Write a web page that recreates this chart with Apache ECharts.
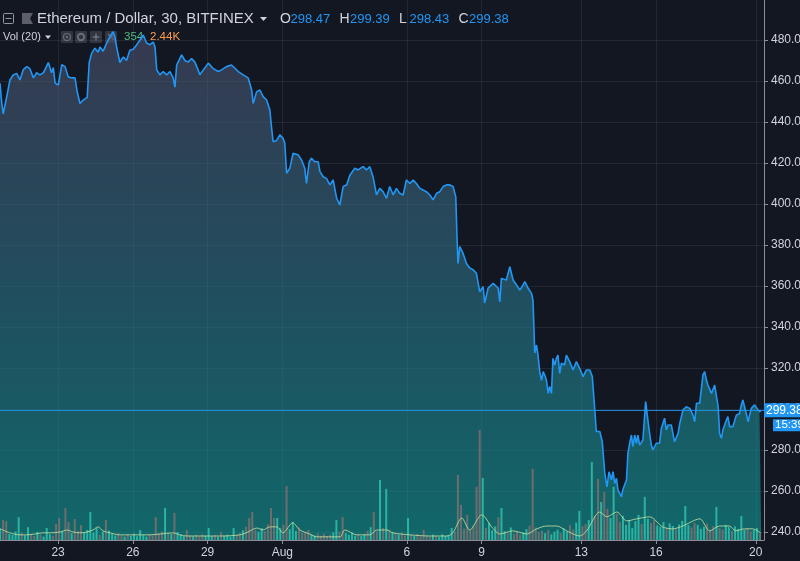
<!DOCTYPE html>
<html>
<head>
<meta charset="utf-8">
<script src="https://cdn.jsdelivr.net/npm/echarts@6/dist/echarts.min.js"></script>
<style>
html, body { margin: 0; padding: 0; background: #131722; }
#chart { width: 800px; height: 561px; }
</style>
</head>
<body>
<div id="chart"></div>
<script>
// ETH/USD 30m (Bitfinex). x = day of month, August continues as 32, 33, ...
const priceDays = [
  20.67, 20.74, 20.80, 20.87, 20.94, 21.07, 21.20, 21.34, 21.47, 21.60,
  21.74, 21.87, 22.01, 22.14, 22.27, 22.41, 22.61, 22.74, 22.81, 22.88,
  23.01, 23.15, 23.28, 23.41, 23.55, 23.68, 23.77, 23.88, 24.01, 24.17,
  24.25, 24.35, 24.48, 24.61, 24.68, 24.81, 24.95, 25.08, 25.21, 25.28,
  25.35, 25.48, 25.62, 25.75, 25.88, 26.02, 26.15, 26.29, 26.42, 26.55,
  26.69, 26.82, 26.89, 26.96, 27.09, 27.22, 27.36, 27.49, 27.62, 27.69,
  27.76, 27.96, 28.09, 28.22, 28.36, 28.49, 28.62, 28.69, 28.83, 29.03,
  29.23, 29.43, 29.56, 29.76, 29.96, 30.10, 30.23, 30.43, 30.63, 30.77,
  30.83, 30.97, 31.10, 31.23, 31.37, 31.50, 31.57, 31.63, 31.77, 31.90,
  32.03, 32.10, 32.17, 32.30, 32.43, 32.63, 32.77, 32.90, 32.97, 33.08,
  33.17, 33.30, 33.44, 33.51, 33.64, 33.77, 33.91, 34.04, 34.18, 34.31,
  34.44, 34.58, 34.71, 34.91, 35.04, 35.24, 35.38, 35.51, 35.64, 35.78,
  35.91, 36.04, 36.18, 36.31, 36.45, 36.58, 36.71, 36.85, 36.98, 37.12,
  37.25, 37.38, 37.52, 37.65, 37.78, 37.92, 38.05, 38.19, 38.32, 38.45,
  38.59, 38.72, 38.85, 38.96, 39.01, 39.05, 39.12, 39.25, 39.39, 39.52,
  39.65, 39.79, 39.92, 40.06, 40.12, 40.26, 40.46, 40.66, 40.73, 40.79,
  40.99, 41.13, 41.26, 41.40, 41.53, 41.66, 41.73, 41.86, 42.00, 42.06,
  42.13, 42.20, 42.26, 42.33, 42.40, 42.47, 42.53, 42.60, 42.67, 42.73,
  42.80, 42.86, 42.93, 43.00, 43.06, 43.13, 43.20, 43.33, 43.40, 43.53,
  43.67, 43.80, 43.93, 44.07, 44.20, 44.34, 44.44, 44.54, 44.60, 44.74,
  44.84, 44.94, 45.03, 45.11, 45.21, 45.27, 45.34, 45.41, 45.47, 45.54,
  45.61, 45.66, 45.74, 45.81, 45.87, 45.94, 46.01, 46.07, 46.14, 46.21,
  46.27, 46.34, 46.47, 46.58, 46.67, 46.74, 46.81, 46.87, 47.01, 47.14,
  47.21, 47.34, 47.41, 47.48, 47.61, 47.68, 47.74, 47.88, 47.95, 48.08,
  48.21, 48.35, 48.48, 48.55, 48.62, 48.75, 48.88, 48.95, 49.02, 49.08,
  49.22, 49.35, 49.42, 49.49, 49.55, 49.62, 49.68, 49.75, 49.82, 49.88,
  49.95, 50.08, 50.22, 50.35, 50.42, 50.48, 50.62, 50.69, 50.82, 50.95,
  51.05, 51.15, 51.22
];
const prices = [
  458.9, 449.1, 444.0, 443.4, 452.3, 460.5, 462.9, 463.7, 460.5, 465.4,
  467.0, 466.0, 461.5, 464.0, 463.0, 464.0, 469.0, 464.0, 466.5, 459.0,
  458.0, 468.0, 467.0, 462.0, 461.5, 461.5, 454.6, 449.0, 450.7, 452.0,
  469.0, 473.6, 476.0, 474.0, 476.6, 474.5, 478.5, 481.5, 484.0, 481.5,
  476.6, 469.0, 471.7, 470.0, 475.0, 475.5, 477.6, 480.0, 482.4, 478.5,
  477.7, 479.0, 476.6, 465.4, 463.0, 464.6, 463.0, 464.6, 461.5, 457.0,
  467.8, 472.7, 470.0, 469.2, 471.0, 469.2, 465.4, 463.0, 465.4, 468.7,
  466.0, 464.6, 465.4, 467.0, 467.8, 466.2, 464.6, 463.0, 461.5, 455.6,
  449.0, 454.8, 455.6, 452.4, 450.7, 445.8, 437.0, 430.4, 431.0, 433.7,
  432.0, 429.6, 415.0, 417.4, 424.7, 424.0, 421.5, 417.4, 410.0, 420.6,
  422.3, 420.6, 420.6, 415.8, 413.3, 412.5, 409.3, 411.7, 402.8, 399.5,
  408.5, 409.3, 414.0, 417.4, 416.6, 418.2, 416.6, 418.2, 413.3, 404.4,
  407.6, 406.0, 402.8, 408.5, 404.4, 407.6, 405.2, 404.4, 411.7, 410.0,
  411.7, 410.0, 407.6, 406.8, 406.0, 404.4, 402.0, 405.2, 406.0, 408.5,
  409.3, 409.3, 408.5, 403.6, 384.0, 371.0, 379.2, 376.0, 371.0, 368.8,
  368.0, 366.2, 357.2, 359.6, 351.7, 359.0, 361.3, 359.0, 352.3, 363.7,
  362.9, 369.4, 362.9, 360.5, 358.0, 360.5, 362.1, 359.0, 356.4, 353.0,
  327.3, 331.2, 326.3, 318.2, 314.0, 318.2, 316.6, 314.0, 307.6, 311.0,
  307.6, 324.7, 321.5, 324.7, 326.3, 317.4, 322.3, 321.5, 326.3, 323.1,
  319.0, 323.1, 319.8, 315.8, 319.0, 319.0, 315.8, 299.5, 289.0, 289.0,
  284.0, 268.6, 262.0, 269.4, 265.4, 269.4, 263.7, 266.2, 260.5, 258.9,
  257.2, 260.5, 261.3, 265.4, 278.4, 283.3, 287.3, 281.6, 287.3, 283.3,
  287.3, 282.4, 284.9, 303.6, 294.6, 288.1, 282.4, 280.0, 283.3, 283.3,
  290.6, 295.5, 289.8, 292.2, 292.2, 291.4, 284.0, 288.1, 293.0, 299.5,
  301.1, 300.3, 297.0, 293.8, 302.8, 302.8, 316.6, 318.2, 314.1, 311.7,
  307.6, 311.7, 310.9, 301.1, 288.1, 285.7, 289.8, 290.6, 294.6, 296.3,
  291.4, 291.4, 297.0, 297.8, 302.0, 304.4, 297.8, 293.8, 300.3, 302.0,
  300.3, 298.7, 299.38
];

// volume, thousands, one bar per 3 hours starting at volStart
const volStart = 20.67;
const volStep = 0.125;
const volumes = [
  4.0, 7.0, 6.6, 2.1, 1.8, 3.0, 8.0, 2.5, 1.6, 4.5,
  2.2, 1.4, 2.8, 1.9, 1.2, 4.2, 2.0, 1.5, 5.6, 7.7,
  3.1, 11.2, 6.3, 2.4, 7.4, 3.2, 5.2, 2.7, 3.5, 9.8,
  2.6, 4.2, 1.8, 2.9, 7.0, 3.3, 2.1, 1.6, 2.4, 1.5,
  1.2, 1.9, 1.4, 2.2, 1.3, 3.5, 1.7, 1.2, 2.0, 1.6,
  8.0, 2.3, 3.0, 11.2, 2.6, 2.1, 9.5, 2.8, 1.9, 1.4,
  3.5, 1.6, 1.3, 1.8, 1.2, 2.0, 1.5, 4.2, 1.3, 1.7,
  1.1, 2.8, 1.5, 1.9, 1.2, 4.2, 1.8, 2.5, 3.4, 4.6,
  7.7, 9.8, 3.6, 2.9, 4.2, 3.1, 5.5, 11.2, 7.7, 7.7,
  4.1, 5.3, 18.9, 3.8, 6.3, 3.2, 4.4, 2.5, 2.8, 3.5,
  2.0, 1.6, 2.4, 1.5, 2.2, 1.4, 1.9, 2.7, 7.0, 3.0,
  8.0, 2.4, 1.8, 2.6, 1.5, 2.1, 1.4, 2.0, 3.2, 4.5,
  9.8, 3.0, 21.0, 4.2, 17.9, 3.6, 2.8, 2.2, 1.9, 2.5,
  1.6, 7.7, 1.8, 1.4, 2.1, 1.3, 3.5, 1.6, 1.2, 1.9,
  1.5, 1.1, 2.0, 1.4, 1.7, 4.2, 2.9, 22.8, 12.3, 4.0,
  8.8, 3.6, 5.1, 18.6, 38.5, 21.7, 4.2, 6.0, 3.4, 4.8,
  8.0, 11.2, 3.1, 2.6, 4.4, 2.2, 3.0, 1.9, 2.7, 3.8,
  5.0, 24.9, 4.4, 2.8, 3.3, 2.4, 3.5, 2.0, 2.9, 3.6,
  2.5, 4.1, 3.0, 5.2, 3.7, 6.1, 10.2, 4.8, 5.6, 7.0,
  27.3, 8.4, 21.4, 13.3, 16.8, 10.9, 7.7, 18.6, 9.1, 6.3,
  8.4, 5.3, 7.0, 4.2, 6.6, 8.8, 5.6, 15.1, 7.4, 6.0,
  7.0, 5.1, 4.6, 6.3, 4.2, 5.8, 4.9, 3.8, 5.4, 6.7,
  11.9, 5.2, 4.4, 6.0, 5.3, 3.9, 4.6, 5.8, 3.5, 4.9,
  11.6, 4.2, 3.7, 5.3, 4.5, 3.2, 4.8, 3.9, 8.4, 3.6,
  4.1, 3.0, 3.6, 4.2, 2.4
];

// Vol (20) moving average, thousands
const maDays = [
  20.67, 21.07, 21.47, 21.75, 22.07, 22.39, 22.68, 23.08, 23.36, 23.60,
  23.88, 24.16, 24.40, 24.60, 24.80, 25.08, 25.48, 25.88, 26.29, 26.69,
  27.09, 27.61, 27.89, 28.17, 28.69, 29.49, 30.30, 30.62, 30.98, 31.22,
  31.50, 31.78, 32.02, 32.42, 32.70, 33.10, 33.38, 34.31, 34.51, 34.99,
  35.51, 35.79, 36.19, 36.43, 37.12, 37.92, 38.60, 38.84, 39.20, 39.52,
  40.00, 40.44, 40.73, 41.25, 41.81, 42.21, 42.61, 43.01, 43.41, 43.93,
  44.21, 44.74, 45.02, 45.42, 45.82, 46.22, 46.74, 47.26, 47.66, 48.07,
  48.75, 49.15, 49.55, 49.95, 50.19, 50.55, 50.87, 51.20
];
const maValues = [
  3.9, 2.5, 1.8, 1.8, 2.1, 2.5, 2.5, 2.8, 3.5, 2.8,
  2.5, 2.8, 3.5, 4.6, 3.2, 2.5, 1.8, 1.8, 1.8, 1.8,
  2.1, 2.5, 1.8, 1.4, 1.4, 1.4, 1.8, 2.8, 4.2, 3.5,
  4.6, 4.6, 2.5, 6.0, 3.5, 2.1, 1.1, 1.1, 3.5, 1.8,
  1.8, 3.5, 3.5, 2.5, 1.8, 1.4, 1.4, 2.5, 7.7, 3.5,
  8.8, 4.2, 2.1, 3.2, 2.1, 3.9, 4.9, 4.9, 3.2, 1.4,
  3.2, 9.8, 8.1, 9.8, 6.7, 7.4, 8.1, 4.6, 3.9, 4.9,
  7.4, 3.2, 4.9, 4.9, 3.2, 3.9, 3.9, 2.44
];

const xTickDays = [23, 26, 29, 32, 37, 40, 44, 47, 51];
const yTicks = [240, 260, 280, 300, 320, 340, 360, 380, 400, 420, 440, 460, 480];
const ohlcNames = ['O', 'H', 'L', 'C'];
const ohlcValues = ['298.47', '299.39', '298.43', '299.38'];
const volNow = '354';
const volMaNow = '2.44K';
const countdown = '15:39';

const FONT = '"Liberation Sans", Arial, sans-serif';
const TXT = '#d1d4dc';
const BLUE = '#2196f3';
const GRID = 'rgba(255,255,255,0.07)';
const SCALE = '#8a8e99';

function fmtDay(v) {
  const d = Math.round(v);
  if (d <= 31) return String(d);
  if (d === 32) return 'Aug';
  return String(d - 31);
}

function priceAt(t) {
  let p = prices[0];
  for (let i = 0; i < priceDays.length; i++) {
    if (priceDays[i] <= t + 1e-6) p = prices[i]; else break;
  }
  return p;
}

const volData = volumes.map(function (v, i) {
  const t = volStart + i * volStep;
  const up = priceAt(t) >= priceAt(t - volStep);
  return {
    value: [t, v],
    itemStyle: { color: up ? 'rgba(60,230,200,0.6)' : 'rgba(225,120,120,0.45)' }
  };
});

const lastPrice = prices[prices.length - 1];

const chart = echarts.init(document.getElementById('chart'));
chart.setOption({
  backgroundColor: '#131722',
  animation: false,
  grid: { left: 0, right: 36, top: 0, bottom: 21, outerBoundsMode: 'none' },
  xAxis: {
    type: 'value',
    min: 20.67,
    max: 51.33,
    axisLine: { show: true, lineStyle: { color: SCALE } },
    axisTick: { show: true, length: 4, customValues: xTickDays, lineStyle: { color: SCALE } },
    axisLabel: { customValues: xTickDays, formatter: fmtDay, color: TXT, fontSize: 12, margin: 7, fontFamily: FONT },
    splitLine: { show: true, lineStyle: { color: GRID, width: 1 } }
  },
  yAxis: [{
    type: 'value',
    position: 'right',
    min: 236.1,
    max: 499.5,
    axisLine: { show: true, lineStyle: { color: SCALE } },
    axisTick: { show: true, length: 4, customValues: yTicks, lineStyle: { color: SCALE } },
    axisLabel: {
      customValues: yTicks, formatter: function (v) { return v.toFixed(2); },
      color: TXT, fontSize: 12, margin: 7, fontFamily: FONT
    },
    splitLine: { show: true, lineStyle: { color: GRID, width: 1 } }
  }, {
    type: 'value',
    min: 0,
    max: 189,
    show: false
  }],
  series: [{
    name: 'price',
    type: 'line',
    data: priceDays.map(function (d, i) { return [d, prices[i]]; }),
    symbol: 'none',
    lineStyle: { color: BLUE, width: 1.6 },
    areaStyle: {
      color: new echarts.graphic.LinearGradient(0, 0, 0, 1, [
        { offset: 0, color: 'rgba(78,80,110,0.85)' },
        { offset: 0.55, color: 'rgba(40,120,140,0.84)' },
        { offset: 1, color: 'rgba(15,160,155,0.84)' }
      ])
    },
    markLine: {
      symbol: 'none',
      silent: true,
      label: { show: false },
      lineStyle: { color: BLUE, width: 1, type: 'solid', opacity: 0.85 },
      data: [{ yAxis: lastPrice }]
    },
    z: 2
  }, {
    name: 'volume',
    type: 'bar',
    yAxisIndex: 1,
    data: volData,
    barWidth: 2,
    silent: true,
    z: 3
  }, {
    name: 'vol ma',
    type: 'line',
    yAxisIndex: 1,
    data: maDays.map(function (d, i) { return [d, maValues[i]]; }),
    symbol: 'none',
    smooth: 0.3,
    lineStyle: { color: 'rgba(205,225,160,0.8)', width: 1 },
    silent: true,
    z: 4
  }]
});

// header and price scale boxes
const py = chart.convertToPixel({ yAxisIndex: 0 }, lastPrice);
const g = [];
// pane icons
g.push({ type: 'rect', shape: { x: 3.5, y: 13.5, width: 10, height: 10, r: 1 }, style: { fill: 'none', stroke: '#9598a1', lineWidth: 1 } });
g.push({ type: 'line', shape: { x1: 5.5, y1: 18.5, x2: 11.5, y2: 18.5 }, style: { stroke: '#9598a1', lineWidth: 1 } });
g.push({ type: 'polygon', shape: { points: [[22, 13], [33, 13], [30, 18.5], [33, 24], [22, 24]] }, style: { fill: '#5d606b' } });
g.push({ type: 'text', x: 37, y: 19, style: { text: 'Ethereum / Dollar, 30, BITFINEX', fill: TXT, font: '15px ' + FONT, verticalAlign: 'middle' } });
g.push({ type: 'polygon', shape: { points: [[260, 17], [267, 17], [263.5, 21]] }, style: { fill: TXT } });
ohlcNames.forEach(function (n, i) {
  const x0 = 280 + i * 59.5;
  g.push({ type: 'text', x: x0, y: 19, style: { text: n, fill: TXT, font: '14px ' + FONT, verticalAlign: 'middle' } });
  g.push({ type: 'text', x: x0 + 10.5, y: 19, style: { text: ohlcValues[i], fill: BLUE, font: '13px ' + FONT, verticalAlign: 'middle' } });
});
// volume legend row
g.push({ type: 'text', x: 3, y: 37, style: { text: 'Vol (20)', fill: TXT, font: '11px ' + FONT, verticalAlign: 'middle' } });
g.push({ type: 'polygon', shape: { points: [[45, 35.5], [51, 35.5], [48, 39]] }, style: { fill: TXT } });
[61, 75, 90, 105].forEach(function (bx) {
  g.push({ type: 'rect', shape: { x: bx, y: 31, width: 12, height: 12, r: 1 }, style: { fill: 'rgba(120,123,134,0.3)' } });
});
const IC = 'rgba(150,153,164,0.55)';
g.push({ type: 'circle', shape: { cx: 67, cy: 37, r: 3.5 }, style: { fill: 'none', stroke: IC, lineWidth: 1.2 } });
g.push({ type: 'circle', shape: { cx: 67, cy: 37, r: 1.2 }, style: { fill: IC } });
g.push({ type: 'circle', shape: { cx: 81, cy: 37, r: 3.2 }, style: { fill: 'none', stroke: IC, lineWidth: 2 } });
g.push({ type: 'line', shape: { x1: 96, y1: 33.5, x2: 96, y2: 40.5 }, style: { stroke: IC, lineWidth: 1.5 } });
g.push({ type: 'line', shape: { x1: 92.5, y1: 37, x2: 99.5, y2: 37 }, style: { stroke: IC, lineWidth: 1.5 } });
g.push({ type: 'line', shape: { x1: 108, y1: 34, x2: 114, y2: 40 }, style: { stroke: IC, lineWidth: 1.5 } });
g.push({ type: 'line', shape: { x1: 114, y1: 34, x2: 108, y2: 40 }, style: { stroke: IC, lineWidth: 1.5 } });
g.push({ type: 'text', x: 124, y: 37, style: { text: volNow, fill: '#53b987', font: '11.5px ' + FONT, verticalAlign: 'middle' } });
g.push({ type: 'text', x: 150, y: 37, style: { text: volMaNow, fill: '#ff9b4f', font: '11.5px ' + FONT, verticalAlign: 'middle' } });
// last price & countdown on the scale
g.push({ type: 'rect', shape: { x: 764, y: py - 7, width: 40, height: 14 }, style: { fill: BLUE }, z: 10 });
g.push({ type: 'text', x: 766, y: py, style: { text: lastPrice.toFixed(2), fill: '#ffffff', font: '12px ' + FONT, verticalAlign: 'middle' }, z: 11 });
g.push({ type: 'rect', shape: { x: 773, y: py + 9, width: 30, height: 12 }, style: { fill: BLUE }, z: 10 });
g.push({ type: 'text', x: 775, y: py + 15, style: { text: countdown, fill: '#ffffff', font: '11.5px ' + FONT, verticalAlign: 'middle' }, z: 11 });

chart.setOption({ graphic: g });
</script>
</body>
</html>
